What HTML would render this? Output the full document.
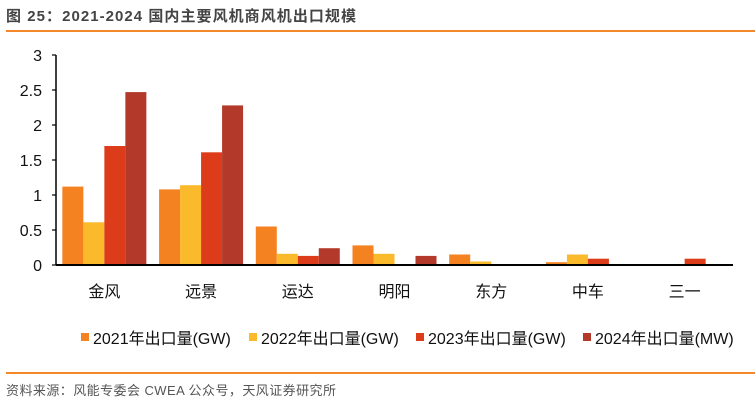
<!DOCTYPE html>
<html><head><meta charset="utf-8"><style>
body{margin:0;background:#fff;width:755px;height:403px;overflow:hidden;font-family:"Liberation Sans","Noto Sans CJK SC",sans-serif;}
</style></head><body>
<svg width="755" height="403" xmlns="http://www.w3.org/2000/svg">
<text x="6" y="21" font-size="15" font-weight="bold" fill="#444" textLength="350" font-family="Liberation Sans,Noto Sans CJK SC,sans-serif">图 25：2021-2024 国内主要风机商风机出口规模</text>
<rect x="6" y="30" width="749" height="2" fill="#f5882a"/>
<g id="plot"></g>
<rect x="6" y="372" width="749" height="2" fill="#f5882a"/>
<text x="6" y="395" font-size="13" fill="#555" textLength="330" font-family="Liberation Sans,Noto Sans CJK SC,sans-serif">资料来源：风能专委会 CWEA 公众号，天风证券研究所</text>
</svg>
<script>
const categories=["金风","远景","运达","明阳","东方","中车","三一"];
const s2021=[1.12,1.08,0.55,0.28,0.15,0.04,0];
const s2022=[0.61,1.14,0.16,0.16,0.05,0.15,0];
const s2023=[1.70,1.61,0.13,0.01,0,0.09,0.09];
const s2024=[2.47,2.28,0.24,0.13,0,0,0];
const seriesNames=["2021年出口量(GW)","2022年出口量(GW)","2023年出口量(GW)","2024年出口量(MW)"];
const yTicks=[0,0.5,1,1.5,2,2.5,3];
const colors=["#f58220","#fbb92c","#dd3c1b","#b33a2b"];
const NS="http://www.w3.org/2000/svg";
const g=document.getElementById('plot');
const x0=56,x1=733,y0=265,yTop=55,yMax=3;
const y=v=>y0-(v/yMax)*(y0-yTop);
const cw=(x1-x0)/categories.length;
function mk(t,a){const e=document.createElementNS(NS,t);for(const k in a)e.setAttribute(k,a[k]);g.appendChild(e);return e;}
const ff="Liberation Sans,Noto Sans CJK SC,sans-serif";
const ax=mk('line',{x1:x0,y1:y(0),x2:x0,y2:y(3),stroke:'#000','stroke-width':1.5});


yTicks.forEach(t=>{
 const l=mk('line',{x1:x0-4,y1:y(t),x2:x0,y2:y(t),stroke:'#000','stroke-width':1.2});
 
 
 const tx=mk('text',{x:x0-14,y:y(t)+6,'font-size':16,'text-anchor':'end','font-family':ff,fill:'#111'});
 tx.textContent=String(t);
 
 
});
const all=[s2021,s2022,s2023,s2024];
const bw=21,pad=(cw-4*bw)/2;
categories.forEach((c,i)=>{
 all.forEach((s,j)=>{
  const v=s[i];
  const r=mk('rect',{x:x0+i*cw+pad+j*bw,y:y(v),width:bw,height:y0-y(v),fill:colors[j]});
  
  
 });
 const t=mk('text',{x:x0+i*cw+cw/2,y:297,'font-size':16,'text-anchor':'middle','font-family':ff,fill:'#111'});
 t.textContent=c;
 
 
});
const xa=mk('line',{x1:x0,y1:y0,x2:x1,y2:y0,stroke:'#000','stroke-width':2});


const lx=[81,249,416,583];
seriesNames.forEach((n,j)=>{
 const r=mk('rect',{x:lx[j],y:333,width:8,height:8,fill:colors[j]});
 
 
 const t=mk('text',{x:lx[j]+12,y:344,'font-size':16,'font-family':ff,fill:'#111'});
 t.textContent=n;
 
 
});
</script>
</body></html>
